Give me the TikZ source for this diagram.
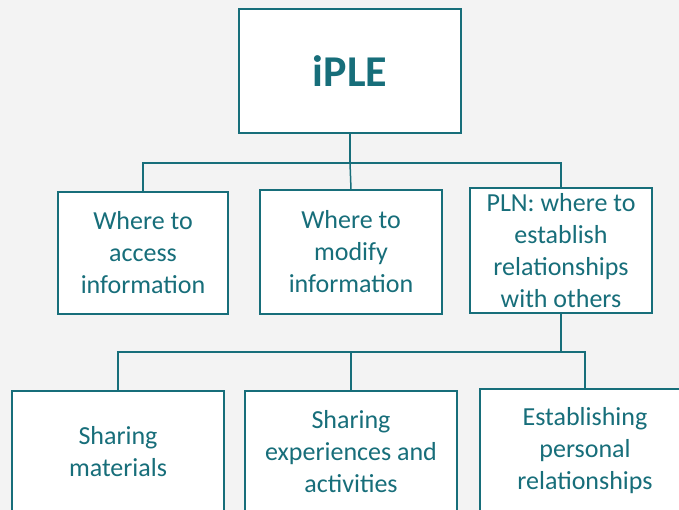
\documentclass[tikz,border=0pt]{standalone}
\usepackage{fontspec}
\setmainfont{Carlito}
\definecolor{teal1}{RGB}{23,110,122}
\definecolor{bg}{RGB}{243,243,243}
\begin{document}
\begin{tikzpicture}[x=1pt,y=-1pt,
  box/.style={draw=teal1,line width=1.5pt,fill=white,text=teal1,inner sep=0pt,align=center,
    font=\fontsize{26}{32}\selectfont},
  conn/.style={draw=teal1,line width=1.5pt}]
\clip (0,0) rectangle (679,510);
\fill[bg] (0,0) rectangle (679,510);
\node[box,minimum width=222pt,minimum height=124pt,font=\fontsize{44}{50}\selectfont\bfseries] (top) at (350,71) {iPLE};
\node[box,minimum width=170pt,minimum height=122pt] (c1) at (143,253) {Where to\\access\\information};
\node[box,minimum width=182pt,minimum height=124pt] (c2) at (351,252) {Where to\\modify\\information};
\node[box,minimum width=182pt,minimum height=125pt] (c3) at (561,250.5) {PLN: where to\\establish\\relationships\\with others};
\node[box,minimum width=212pt,minimum height=122pt] (a) at (118,452) {Sharing\\materials};
\node[box,minimum width=212pt,minimum height=122pt] (b) at (351,452) {Sharing\\experiences and\\activities};
\node[box,minimum width=210pt,minimum height=123pt] (c) at (585,450.5) {Establishing\\personal\\relationships};
\coordinate (bus1) at (350,163);
\coordinate (bus2) at (561,352);
\draw[conn] (top.south) -- (bus1) -| (c1.north);
\draw[conn] (bus1) -| (c3.north);
\draw[conn] (bus1) -- (c2.north);
\draw[conn] (c3.south) -- (bus2) -| (a.north);
\draw[conn] (bus2) -| (c.north);
\draw[conn] (bus2 -| b.north) -- (b.north);
\end{tikzpicture}
\end{document}
